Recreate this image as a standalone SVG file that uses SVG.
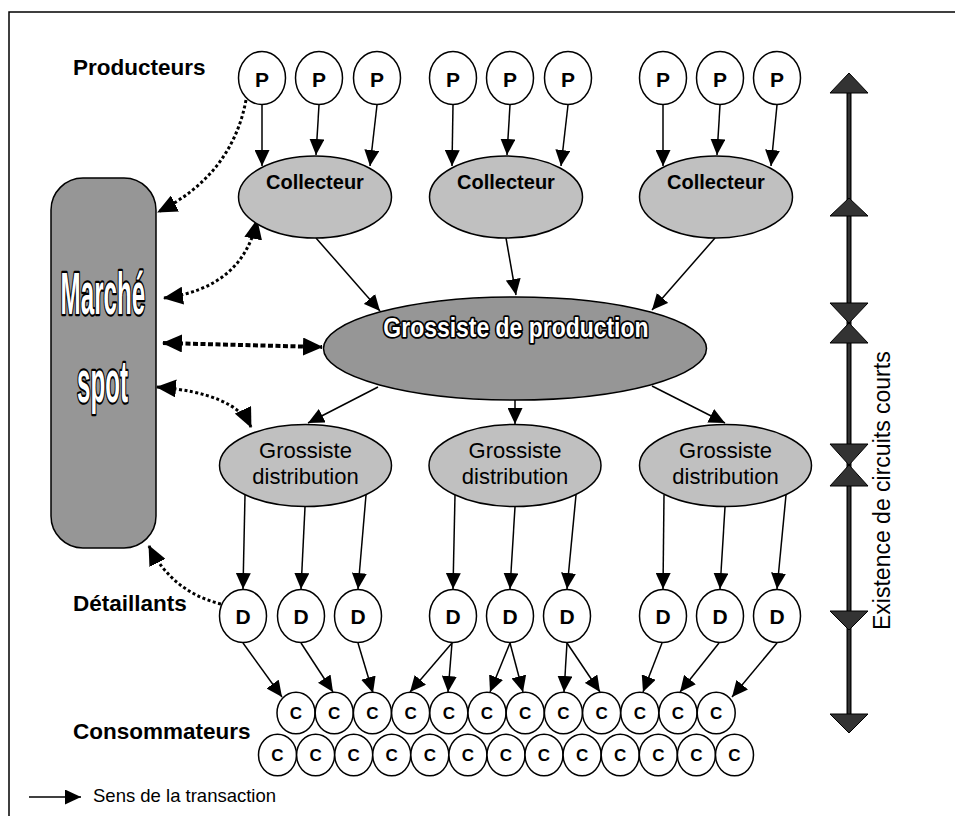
<svg xmlns="http://www.w3.org/2000/svg" width="955" height="816" viewBox="0 0 955 816">
<style>
text{font-family:"Liberation Sans",Arial,sans-serif;fill:#000}
.lbl{font-size:22.5px;font-weight:bold}
.pd{font-size:21px;font-weight:bold;text-anchor:middle}
.cc{font-size:17px;font-weight:bold;text-anchor:middle}
.nd{fill:#fff;stroke:#000;stroke-width:1.5}
.lg{fill:#c0c0c0;stroke:#000;stroke-width:1.5}
.dg{fill:#969696;stroke:#000;stroke-width:1.5}
.col{font-size:20px;font-weight:bold;text-anchor:middle}
.dis{font-size:22px;text-anchor:middle}
.out{fill:#fff;stroke:#000;stroke-width:3.4;paint-order:stroke;font-weight:bold;text-anchor:middle;stroke-linejoin:round;vector-effect:non-scaling-stroke}
.sl{stroke:#000;stroke-width:1.5;fill:none;marker-end:url(#ah)}
.dt{stroke:#000;stroke-width:3;stroke-dasharray:3 2.5;fill:none}
.ax{fill:#333;stroke:#000;stroke-width:1}
</style>
<defs>
<marker id="ah" viewBox="0 0 16 15" refX="16" refY="7.5" markerWidth="16" markerHeight="15" markerUnits="userSpaceOnUse" orient="auto"><path d="M0,0 L16,7.5 L0,15 z" fill="#000"/></marker>
<marker id="ad" viewBox="0 0 20 18" refX="19" refY="9" markerWidth="20" markerHeight="18" markerUnits="userSpaceOnUse" orient="auto-start-reverse"><path d="M0,0 L20,9 L0,18 z" fill="#000"/></marker>
</defs>
<rect x="0" y="0" width="955" height="816" fill="#fff"/>
<rect x="9" y="12" width="1000" height="900" fill="none" stroke="#000" stroke-width="1.5"/>

<text class="lbl" x="73" y="75">Producteurs</text>
<text class="lbl" x="73" y="611">Détaillants</text>
<text class="lbl" x="73" y="739">Consommateurs</text>

<g id="connectors">
<path class="sl" d="M262,105 L262,166"/>
<path class="sl" d="M319,105 L316,155"/>
<path class="sl" d="M377,105 L370,166"/>
<path class="sl" d="M453,105 L452,166"/>
<path class="sl" d="M510,105 L507,155"/>
<path class="sl" d="M568,105 L561,166"/>
<path class="sl" d="M663,105 L663,166"/>
<path class="sl" d="M720,105 L717,155"/>
<path class="sl" d="M777,105 L771,166"/>
<path class="sl" d="M316,238 L380,311"/>
<path class="sl" d="M506,238 L516,295"/>
<path class="sl" d="M715,238 L652,310"/>
<path class="sl" d="M378,387 L308,423"/>
<path class="sl" d="M515,400 L515,424"/>
<path class="sl" d="M652,386 L725,423"/>
<path class="sl" d="M245,495 L243,589"/>
<path class="sl" d="M305,507 L301,589"/>
<path class="sl" d="M366,495 L358,589"/>
<path class="sl" d="M455,495 L453,589"/>
<path class="sl" d="M515,507 L510,589"/>
<path class="sl" d="M576,495 L567,589"/>
<path class="sl" d="M664,495 L663,589"/>
<path class="sl" d="M725,507 L720,589"/>
<path class="sl" d="M786,495 L777,589"/>
<path class="sl" d="M243,643 L282,697"/>
<path class="sl" d="M301,643 L333,692"/>
<path class="sl" d="M358,643 L373,693"/>
<path class="sl" d="M452,643 L410,692"/>
<path class="sl" d="M452,643 L448,692"/>
<path class="sl" d="M510,643 L490,692"/>
<path class="sl" d="M510,643 L523,692"/>
<path class="sl" d="M567,643 L564,692"/>
<path class="sl" d="M567,643 L600,692"/>
<path class="sl" d="M662,643 L643,692"/>
<path class="sl" d="M719,643 L680,692"/>
<path class="sl" d="M777,643 L732,697"/>
<path class="dt" d="M246,100 Q232,175 158,212" marker-end="url(#ad)"/>
<path class="dt" d="M164,298 Q243,288 257,220" marker-start="url(#ad)" marker-end="url(#ad)"/>
<path class="dt" d="M163,343 L322,347" style="stroke-width:4;stroke-dasharray:5 2.5" marker-start="url(#ad)" marker-end="url(#ad)"/>
<path class="dt" d="M157,387 Q235,393 251,427" marker-start="url(#ad)" marker-end="url(#ad)"/>
<path class="dt" d="M221,604 Q172,592 149,546" marker-end="url(#ad)"/>
<path class="sl" d="M29,797 L81,797"/>
</g>
<text x="93" y="802" style="font-size:18.5px">Sens de la transaction</text>

<g id="marche-spot">
<rect class="dg" x="51" y="178" width="105" height="370" rx="32" ry="32"/>
<text class="out" transform="scale(0.41,1)" x="251" y="314" style="font-size:59px">Marché</text>
<text class="out" transform="scale(0.41,1)" x="250" y="402" style="font-size:59px">spot</text>
</g>

<g id="p1"><ellipse class="nd" cx="262" cy="78" rx="23.5" ry="26.5"/><text class="pd" x="262" y="87">P</text></g>
<g id="p2"><ellipse class="nd" cx="319" cy="78" rx="23.5" ry="26.5"/><text class="pd" x="319" y="87">P</text></g>
<g id="p3"><ellipse class="nd" cx="377" cy="78" rx="23.5" ry="26.5"/><text class="pd" x="377" y="87">P</text></g>
<g id="p4"><ellipse class="nd" cx="453" cy="78" rx="23.5" ry="26.5"/><text class="pd" x="453" y="87">P</text></g>
<g id="p5"><ellipse class="nd" cx="510" cy="78" rx="23.5" ry="26.5"/><text class="pd" x="510" y="87">P</text></g>
<g id="p6"><ellipse class="nd" cx="568" cy="78" rx="23.5" ry="26.5"/><text class="pd" x="568" y="87">P</text></g>
<g id="p7"><ellipse class="nd" cx="663" cy="78" rx="23.5" ry="26.5"/><text class="pd" x="663" y="87">P</text></g>
<g id="p8"><ellipse class="nd" cx="720" cy="78" rx="23.5" ry="26.5"/><text class="pd" x="720" y="87">P</text></g>
<g id="p9"><ellipse class="nd" cx="777" cy="78" rx="23.5" ry="26.5"/><text class="pd" x="777" y="87">P</text></g>

<g id="collecteur1"><ellipse class="lg" cx="315" cy="197" rx="76.5" ry="41"/><text class="col" x="315" y="189">Collecteur</text></g>
<g id="collecteur2"><ellipse class="lg" cx="506" cy="197" rx="76.5" ry="41"/><text class="col" x="506" y="189">Collecteur</text></g>
<g id="collecteur3"><ellipse class="lg" cx="716" cy="197" rx="76.5" ry="41"/><text class="col" x="716" y="189">Collecteur</text></g>

<g id="grossiste-production">
<ellipse class="dg" cx="515" cy="348.5" rx="191.5" ry="51.5"/>
<text class="out" transform="scale(0.85,1)" x="607" y="337" style="font-size:27px">Grossiste de production</text>
</g>

<g id="distribution1"><ellipse class="lg" cx="305.5" cy="465.5" rx="86" ry="41"/><text class="dis" x="305.5" y="458">Grossiste</text><text class="dis" x="305.5" y="484">distribution</text></g>
<g id="distribution2"><ellipse class="lg" cx="515" cy="465.5" rx="86" ry="41"/><text class="dis" x="515" y="458">Grossiste</text><text class="dis" x="515" y="484">distribution</text></g>
<g id="distribution3"><ellipse class="lg" cx="725.5" cy="465.5" rx="86" ry="41"/><text class="dis" x="725.5" y="458">Grossiste</text><text class="dis" x="725.5" y="484">distribution</text></g>

<g id="d1"><ellipse class="nd" cx="243" cy="616" rx="23.5" ry="26.5"/><text class="pd" x="243" y="624">D</text></g>
<g id="d2"><ellipse class="nd" cx="301" cy="616" rx="23.5" ry="26.5"/><text class="pd" x="301" y="624">D</text></g>
<g id="d3"><ellipse class="nd" cx="358" cy="616" rx="23.5" ry="26.5"/><text class="pd" x="358" y="624">D</text></g>
<g id="d4"><ellipse class="nd" cx="453" cy="616" rx="23.5" ry="26.5"/><text class="pd" x="453" y="624">D</text></g>
<g id="d5"><ellipse class="nd" cx="510" cy="616" rx="23.5" ry="26.5"/><text class="pd" x="510" y="624">D</text></g>
<g id="d6"><ellipse class="nd" cx="567" cy="616" rx="23.5" ry="26.5"/><text class="pd" x="567" y="624">D</text></g>
<g id="d7"><ellipse class="nd" cx="663" cy="616" rx="23.5" ry="26.5"/><text class="pd" x="663" y="624">D</text></g>
<g id="d8"><ellipse class="nd" cx="720" cy="616" rx="23.5" ry="26.5"/><text class="pd" x="720" y="624">D</text></g>
<g id="d9"><ellipse class="nd" cx="777" cy="616" rx="23.5" ry="26.5"/><text class="pd" x="777" y="624">D</text></g>

<g id="c-top">
<g id="ct1"><ellipse class="nd" cx="296" cy="713" rx="19" ry="20.7"/><text class="cc" x="296" y="719">C</text></g>
<g id="ct2"><ellipse class="nd" cx="334.2" cy="713" rx="19" ry="20.7"/><text class="cc" x="334.2" y="719">C</text></g>
<g id="ct3"><ellipse class="nd" cx="372.4" cy="713" rx="19" ry="20.7"/><text class="cc" x="372.4" y="719">C</text></g>
<g id="ct4"><ellipse class="nd" cx="410.6" cy="713" rx="19" ry="20.7"/><text class="cc" x="410.6" y="719">C</text></g>
<g id="ct5"><ellipse class="nd" cx="448.8" cy="713" rx="19" ry="20.7"/><text class="cc" x="448.8" y="719">C</text></g>
<g id="ct6"><ellipse class="nd" cx="487" cy="713" rx="19" ry="20.7"/><text class="cc" x="487" y="719">C</text></g>
<g id="ct7"><ellipse class="nd" cx="525.2" cy="713" rx="19" ry="20.7"/><text class="cc" x="525.2" y="719">C</text></g>
<g id="ct8"><ellipse class="nd" cx="563.4" cy="713" rx="19" ry="20.7"/><text class="cc" x="563.4" y="719">C</text></g>
<g id="ct9"><ellipse class="nd" cx="601.6" cy="713" rx="19" ry="20.7"/><text class="cc" x="601.6" y="719">C</text></g>
<g id="ct10"><ellipse class="nd" cx="639.8" cy="713" rx="19" ry="20.7"/><text class="cc" x="639.8" y="719">C</text></g>
<g id="ct11"><ellipse class="nd" cx="678" cy="713" rx="19" ry="20.7"/><text class="cc" x="678" y="719">C</text></g>
<g id="ct12"><ellipse class="nd" cx="716.2" cy="713" rx="19" ry="20.7"/><text class="cc" x="716.2" y="719">C</text></g>
</g>
<g id="c-bottom">
<g id="cb1"><ellipse class="nd" cx="277.5" cy="755" rx="19" ry="20.7"/><text class="cc" x="277.5" y="761">C</text></g>
<g id="cb2"><ellipse class="nd" cx="315.6" cy="755" rx="19" ry="20.7"/><text class="cc" x="315.6" y="761">C</text></g>
<g id="cb3"><ellipse class="nd" cx="353.7" cy="755" rx="19" ry="20.7"/><text class="cc" x="353.7" y="761">C</text></g>
<g id="cb4"><ellipse class="nd" cx="391.7" cy="755" rx="19" ry="20.7"/><text class="cc" x="391.7" y="761">C</text></g>
<g id="cb5"><ellipse class="nd" cx="429.8" cy="755" rx="19" ry="20.7"/><text class="cc" x="429.8" y="761">C</text></g>
<g id="cb6"><ellipse class="nd" cx="467.9" cy="755" rx="19" ry="20.7"/><text class="cc" x="467.9" y="761">C</text></g>
<g id="cb7"><ellipse class="nd" cx="506" cy="755" rx="19" ry="20.7"/><text class="cc" x="506" y="761">C</text></g>
<g id="cb8"><ellipse class="nd" cx="544" cy="755" rx="19" ry="20.7"/><text class="cc" x="544" y="761">C</text></g>
<g id="cb9"><ellipse class="nd" cx="582.1" cy="755" rx="19" ry="20.7"/><text class="cc" x="582.1" y="761">C</text></g>
<g id="cb10"><ellipse class="nd" cx="620.2" cy="755" rx="19" ry="20.7"/><text class="cc" x="620.2" y="761">C</text></g>
<g id="cb11"><ellipse class="nd" cx="658.3" cy="755" rx="19" ry="20.7"/><text class="cc" x="658.3" y="761">C</text></g>
<g id="cb12"><ellipse class="nd" cx="696.4" cy="755" rx="19" ry="20.7"/><text class="cc" x="696.4" y="761">C</text></g>
<g id="cb13"><ellipse class="nd" cx="734.5" cy="755" rx="19" ry="20.7"/><text class="cc" x="734.5" y="761">C</text></g>
</g>

<g id="axis">
<line x1="849" y1="90" x2="849" y2="716" stroke="#000" stroke-width="5"/>
<line x1="849" y1="90" x2="849" y2="716" stroke="#333" stroke-width="2.5"/>
<path class="ax" d="M849,73 L830,93 L868,93 z"/>
<path class="ax" d="M849,198 L830,216 L868,216 z"/>
<path class="ax" d="M830,303 L868,303 L849,323 z"/>
<path class="ax" d="M849,323 L830,343 L868,343 z"/>
<path class="ax" d="M830,444 L868,444 L849,465 z"/>
<path class="ax" d="M849,465 L830,486 L868,486 z"/>
<path class="ax" d="M830,611 L868,611 L849,630 z"/>
<path class="ax" d="M830,714 L868,714 L849,733 z"/>
<text transform="translate(890,630) rotate(-90)" x="0" y="0" style="font-size:23px">Existence de circuits courts</text>
</g>
</svg>
